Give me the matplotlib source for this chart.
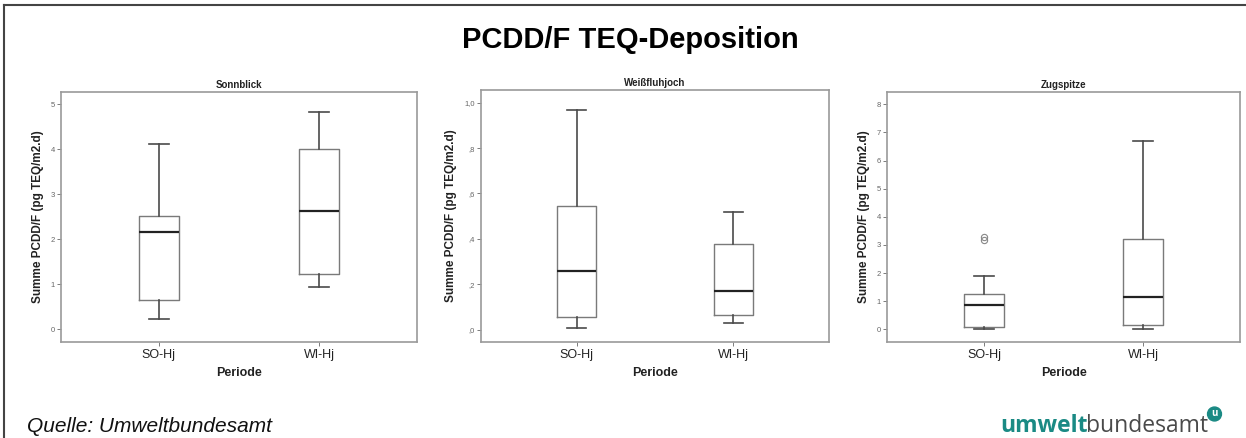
import matplotlib
matplotlib.use("Agg")
import matplotlib.pyplot as plt
from matplotlib.lines import Line2D

# Kennwerte der Boxplots (pg TEQ/m2.d), je Station: SO-Hj, WI-Hj
perioden = ["SO-Hj", "WI-Hj"]
stationen = ["Sonnblick", "Weißfluhjoch", "Zugspitze"]

sonnblick_min = [0.24, 0.95]
sonnblick_q1 = [0.65, 1.23]
sonnblick_med = [2.16, 2.63]
sonnblick_q3 = [2.51, 4.01]
sonnblick_max = [4.12, 4.82]
sonnblick_ausreisser = [[], []]

weiss_min = [0.006, 0.028]
weiss_q1 = [0.057, 0.066]
weiss_med = [0.26, 0.172]
weiss_q3 = [0.545, 0.379]
weiss_max = [0.970, 0.519]
weiss_ausreisser = [[], []]

zug_min = [0.0, 0.01]
zug_q1 = [0.08, 0.14]
zug_med = [0.85, 1.15]
zug_q3 = [1.27, 3.23]
zug_max = [1.89, 6.71]
zug_ausreisser = [[3.18, 3.30], []]

y_ticks = [[0, 1, 2, 3, 4, 5],
           [0.0, 0.2, 0.4, 0.6, 0.8, 1.0],
           [0, 1, 2, 3, 4, 5, 6, 7, 8]]
y_ticklabels = [["0", "1", "2", "3", "4", "5"],
                [",0", ",2", ",4", ",6", ",8", "1,0"],
                ["0", "1", "2", "3", "4", "5", "6", "7", "8"]]
y_lims = [(-0.28, 5.27), (-0.055, 1.056), (-0.45, 8.44)]


def make_stats(lo, q1, med, q3, hi, fl):
    stats = []
    for i in range(len(lo)):
        stats.append({"whislo": lo[i], "q1": q1[i], "med": med[i],
                      "q3": q3[i], "whishi": hi[i], "fliers": fl[i]})
    return stats


alle_stats = [
    make_stats(sonnblick_min, sonnblick_q1, sonnblick_med, sonnblick_q3, sonnblick_max, sonnblick_ausreisser),
    make_stats(weiss_min, weiss_q1, weiss_med, weiss_q3, weiss_max, weiss_ausreisser),
    make_stats(zug_min, zug_q1, zug_med, zug_q3, zug_max, zug_ausreisser),
]

plt.rcParams['font.family'] = ['Liberation Sans', 'DejaVu Sans']

fig = plt.figure(figsize=(12.46, 4.38), dpi=100)
W, H = 1246.0, 438.0

# Achsen-Positionen in Pixel (links, oben, rechts, unten)
boxes_px = [(61, 92, 417, 342), (481, 90, 829, 342), (887, 92, 1240, 342)]

achsen_grau = "#9a9a9a"
for k, (l, t, r, b) in enumerate(boxes_px):
    ax = fig.add_axes([l / W, 1 - b / H, (r - l) / W, (b - t) / H])
    ax.bxp(alle_stats[k], positions=[1, 2], widths=0.25, showfliers=True,
           boxprops=dict(color="#7a7a7a", linewidth=1.0),
           whiskerprops=dict(color="#4a4a4a", linewidth=1.2),
           capprops=dict(color="#4a4a4a", linewidth=1.2),
           medianprops=dict(color="#222222", linewidth=1.6),
           flierprops=dict(marker="o", markerfacecolor="none",
                           markeredgecolor="#888888", markersize=4.5,
                           markeredgewidth=0.8))
    ax.set_xlim(0.39, 2.61)
    ax.set_ylim(*y_lims[k])
    ax.set_yticks(y_ticks[k])
    ax.set_yticklabels(y_ticklabels[k])
    ax.set_xticks([1, 2])
    ax.set_xticklabels(perioden)
    for sp in ax.spines.values():
        sp.set_color(achsen_grau)
        sp.set_linewidth(1.2)
    ax.tick_params(axis="y", labelsize=5.5, labelcolor="#666666", color="#666666",
                   length=3, width=0.6, pad=1.5)
    ax.tick_params(axis="x", labelsize=9, labelcolor="#222222", color="#666666",
                   length=3, width=0.6, pad=2)
    ax.set_title(stationen[k], fontsize=7, fontweight="bold", color="#222222", pad=3)
    ax.set_xlabel("Periode", fontsize=9, fontweight="bold", color="#222222", labelpad=4)
    ax.set_ylabel("Summe PCDD/F (pg TEQ/m2.d)", fontsize=8.5, fontweight="bold",
                  color="#222222", labelpad=5)

fig.text(0.506, 1 - 40 / H, "PCDD/F TEQ-Deposition", ha="center", va="center",
         fontsize=21, fontweight="bold", color="black")
fig.text(27 / W, 1 - 426 / H, "Quelle: Umweltbundesamt", ha="left", va="center",
         fontsize=15, fontstyle="italic", color="#111111")

# Logo als Text
teal = "#1a8a84"
logo_font = ["Open Sans", "DejaVu Sans"]
t1 = fig.text(1000 / W, 1 - 432 / H, "umwelt", ha="left", va="baseline",
              fontsize=16.5, fontweight="bold", color=teal, family=logo_font)
fig.canvas.draw()
bb = t1.get_window_extent()
t2 = fig.text((bb.x1 - 1) / W, 1 - 432 / H, "bundesamt", ha="left", va="baseline",
              fontsize=16.5, color="#4a4a4a", family=logo_font)
fig.canvas.draw()
bb2 = t2.get_window_extent()
fig.text((bb2.x1 + 6) / W, 1 - 414 / H, "u", ha="center", va="center",
         fontsize=7, fontweight="bold", color="white", family=logo_font,
         bbox=dict(boxstyle="circle,pad=0.15", fc=teal, ec=teal))

# Rahmen oben und links
fig.add_artist(Line2D([4 / W, 1.0], [1 - 4.5 / H, 1 - 4.5 / H], color="#444444",
                      linewidth=1.5, transform=fig.transFigure))
fig.add_artist(Line2D([4 / W, 4 / W], [0.0, 1 - 4.5 / H], color="#444444",
                      linewidth=1.5, transform=fig.transFigure))

fig.savefig("out.png", dpi=100, facecolor="white")
